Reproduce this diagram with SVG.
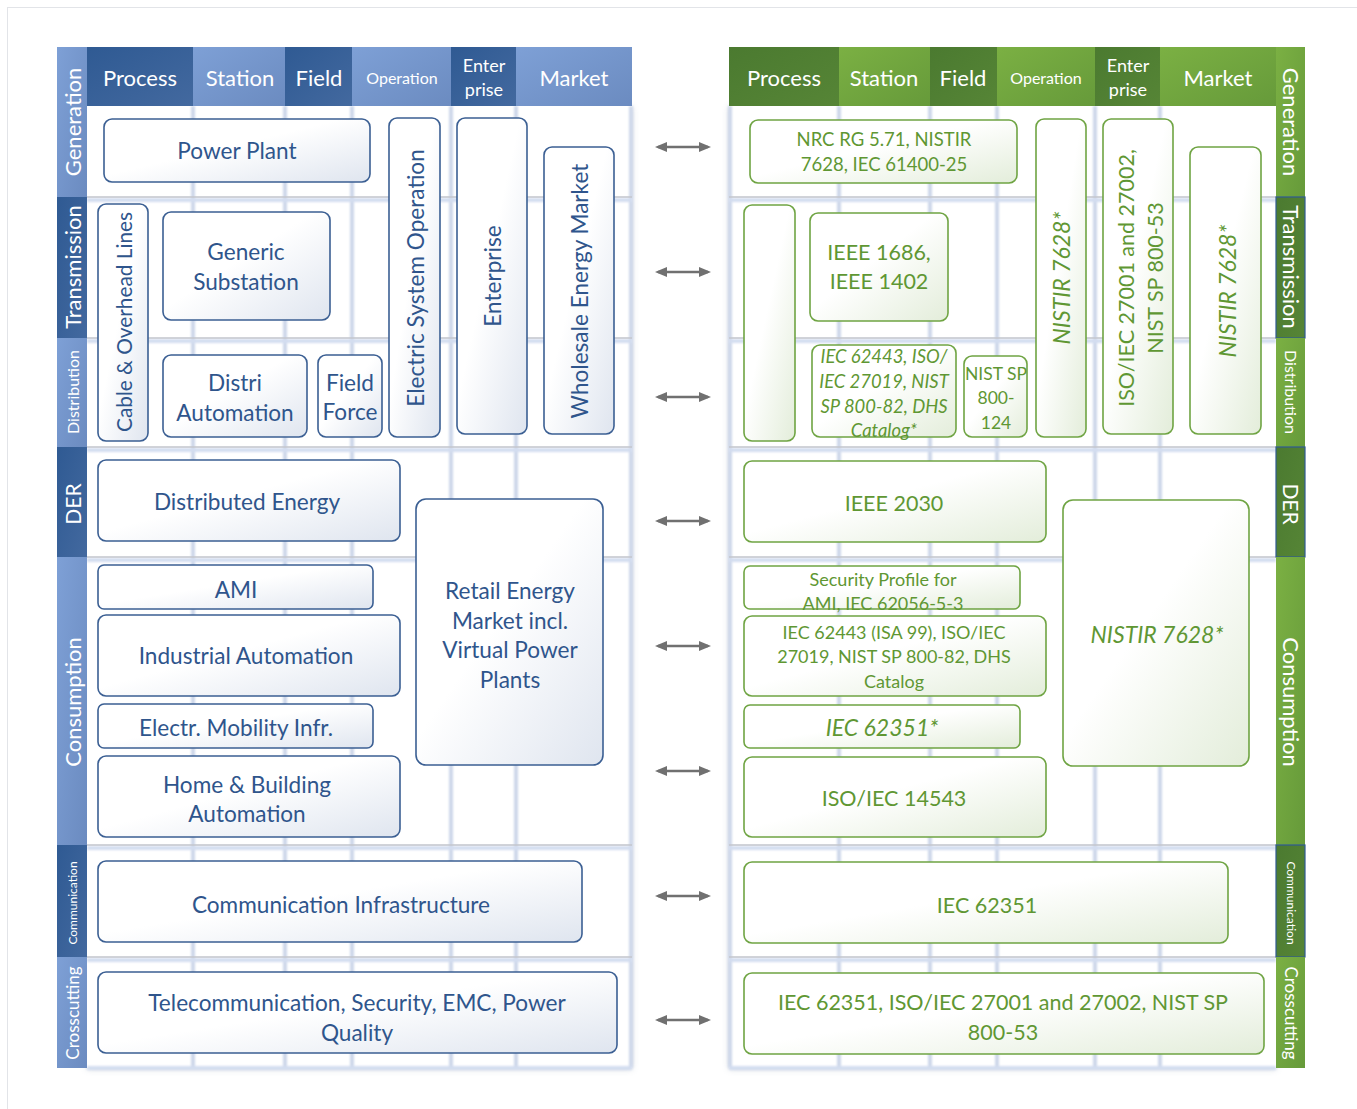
<svg xmlns="http://www.w3.org/2000/svg" width="1357" height="1109" viewBox="0 0 1357 1109">
  <defs>
    <style>
      text { font-family: Lato, "Open Sans", "Liberation Sans", sans-serif; text-anchor: middle; dominant-baseline: central; }
      .hd { fill: #ffffff; font-size: 22px; }
      .hd-s { fill: #ffffff; font-size: 16px; }
      .hd-m { fill: #ffffff; font-size: 18px; }
      .lab { fill: #ffffff; }
      .bn { fill: url(#gBlue); stroke: #3b5f93; stroke-width: 1.6; }
      .gn { fill: url(#gGreen); stroke: #6fa443; stroke-width: 1.6; }
      .bt { fill: #2f558c; font-size: 22.6px; }
      .gt { fill: #5f9733; font-size: 21.5px; }
      .gs { fill: #5f9733; font-size: 18px; }
      .it { font-style: italic; font-size: 23px; }
      .gs.it { font-size: 18.4px; }
      .hline { stroke: #c3c6cc; stroke-width: 1.5; }
      .hglow { stroke: #d3ddf0; stroke-width: 4; }
      .vline { stroke: #cdd7ea; stroke-width: 4; }
      .arr { stroke: #707070; stroke-width: 2.5; marker-start: url(#ah); marker-end: url(#ah); }
    </style>
    <linearGradient id="gBlue" x1="0" y1="0" x2="1" y2="1">
      <stop offset="0" stop-color="#ffffff"/>
      <stop offset="0.45" stop-color="#ffffff"/>
      <stop offset="1" stop-color="#dfe5ef"/>
    </linearGradient>
    <linearGradient id="gGreen" x1="0" y1="0" x2="1" y2="1">
      <stop offset="0" stop-color="#ffffff"/>
      <stop offset="0.45" stop-color="#ffffff"/>
      <stop offset="1" stop-color="#e3edda"/>
    </linearGradient>
    <linearGradient id="bDark" x1="0" y1="0" x2="1" y2="1">
      <stop offset="0" stop-color="#2f5a93"/>
      <stop offset="1" stop-color="#43699f"/>
    </linearGradient>
    <linearGradient id="bLight" x1="0" y1="0" x2="1" y2="1">
      <stop offset="0" stop-color="#7ea0d6"/>
      <stop offset="1" stop-color="#6b8bc0"/>
    </linearGradient>
    <linearGradient id="gDark" x1="0" y1="0" x2="1" y2="1">
      <stop offset="0" stop-color="#4b7a30"/>
      <stop offset="1" stop-color="#568536"/>
    </linearGradient>
    <linearGradient id="gLight" x1="0" y1="0" x2="1" y2="1">
      <stop offset="0" stop-color="#7bb043"/>
      <stop offset="1" stop-color="#669a3a"/>
    </linearGradient>
    <filter id="soft" x="-5%" y="-5%" width="110%" height="110%">
      <feGaussianBlur stdDeviation="1.2"/>
    </filter>
    <filter id="shadow" x="-5%" y="-5%" width="110%" height="110%">
      <feDropShadow dx="0" dy="1" stdDeviation="3" flood-color="#8a97ad" flood-opacity="0.45"/>
    </filter>
    <marker id="ah" viewBox="0 0 12 10" refX="9" refY="5" markerWidth="12" markerHeight="10" markerUnits="userSpaceOnUse" orient="auto-start-reverse">
      <path d="M0,0 L12,5 L0,10 Z" fill="#707070"/>
    </marker>
  </defs>

  <!-- page frame -->
  <rect x="0" y="0" width="1357" height="1109" fill="#ffffff"/>
  <rect x="7.5" y="7.5" width="1360" height="1110" fill="none" stroke="#e2e4e8" stroke-width="1"/>

  <!-- ===== left panel: domains ===== -->
  <g id="left-panel">
    <rect x="87" y="106" width="545" height="962" fill="#ffffff" filter="url(#shadow)"/>
    <g filter="url(#soft)">
      <line class="vline" x1="193" y1="106" x2="193" y2="1068"/>
      <line class="vline" x1="285" y1="106" x2="285" y2="1068"/>
      <line class="vline" x1="352" y1="106" x2="352" y2="1068"/>
      <line class="vline" x1="451" y1="106" x2="451" y2="1068"/>
      <line class="vline" x1="516" y1="106" x2="516" y2="1068"/>
      <line class="vline" x1="631" y1="106" x2="631" y2="1068"/>
      <line class="hglow" x1="87" y1="200" x2="632" y2="200"/>
      <line class="hglow" x1="87" y1="341" x2="632" y2="341"/>
      <line class="hglow" x1="87" y1="450" x2="632" y2="450"/>
      <line class="hglow" x1="87" y1="560" x2="632" y2="560"/>
      <line class="hglow" x1="87" y1="848" x2="632" y2="848"/>
      <line class="hglow" x1="87" y1="960" x2="632" y2="960"/>
      <line class="hglow" x1="87" y1="1068" x2="632" y2="1068"/>
    </g>
    <line class="hline" x1="87" y1="197" x2="632" y2="197"/>
    <line class="hline" x1="87" y1="338" x2="632" y2="338"/>
    <line class="hline" x1="87" y1="447" x2="632" y2="447"/>
    <line class="hline" x1="87" y1="557" x2="632" y2="557"/>
    <line class="hline" x1="87" y1="845" x2="632" y2="845"/>
    <line class="hline" x1="87" y1="957" x2="632" y2="957"/>

    <!-- column header -->
    <g id="left-header">
      <rect x="87" y="47" width="106" height="59" fill="url(#bDark)"/>
      <rect x="193" y="47" width="92" height="59" fill="url(#bLight)"/>
      <rect x="285" y="47" width="67" height="59" fill="url(#bDark)"/>
      <rect x="352" y="47" width="99" height="59" fill="url(#bLight)"/>
      <rect x="451" y="47" width="65" height="59" fill="url(#bDark)"/>
      <rect x="516" y="47" width="116" height="59" fill="url(#bLight)"/>
      <text class="hd" x="140" y="77">Process</text>
      <text class="hd" x="240" y="77">Station</text>
      <text class="hd" x="319" y="77">Field</text>
      <text class="hd-s" x="402" y="77">Operation</text>
      <text class="hd-m" x="484" y="65">Enter</text>
      <text class="hd-m" x="484" y="89">prise</text>
      <text class="hd" x="574" y="77">Market</text>
    </g>

    <!-- row labels -->
    <g id="left-rows">
      <rect x="57" y="47" width="30" height="150" fill="url(#bLight)"/>
      <rect x="57" y="197" width="30" height="141" fill="url(#bDark)"/>
      <rect x="57" y="338" width="30" height="109" fill="url(#bLight)"/>
      <rect x="57" y="447" width="30" height="110" fill="url(#bDark)"/>
      <rect x="57" y="557" width="30" height="288" fill="url(#bLight)"/>
      <rect x="57" y="845" width="30" height="112" fill="url(#bDark)"/>
      <rect x="57" y="957" width="30" height="111" fill="url(#bLight)"/>
      <text class="lab" font-size="22" transform="translate(72 122) rotate(-90)">Generation</text>
      <text class="lab" font-size="22" transform="translate(72 267) rotate(-90)">Transmission</text>
      <text class="lab" font-size="16" transform="translate(72 392) rotate(-90)">Distribution</text>
      <text class="lab" font-size="21" transform="translate(72 504) rotate(-90)">DER</text>
      <text class="lab" font-size="22" transform="translate(72 702) rotate(-90)">Consumption</text>
      <text class="lab" font-size="12" transform="translate(72 903) rotate(-90)">Communication</text>
      <text class="lab" font-size="17" transform="translate(72 1013) rotate(-90)">Crosscutting</text>
    </g>
  </g>

  <!-- left panel nodes -->
  <g id="power-plant">
    <rect class="bn" x="104" y="119" width="266" height="63" rx="8"/>
    <text class="bt" x="237" y="150">Power Plant</text>
  </g>
  <g id="electric-system-operation">
    <rect class="bn" x="389" y="118" width="51" height="319" rx="8"/>
    <text class="bt" transform="translate(415 278) rotate(-90)">Electric System Operation</text>
  </g>
  <g id="enterprise">
    <rect class="bn" x="457" y="118" width="70" height="316" rx="8"/>
    <text class="bt" transform="translate(492 276) rotate(-90)">Enterprise</text>
  </g>
  <g id="wholesale-energy-market">
    <rect class="bn" x="544" y="147" width="70" height="287" rx="8"/>
    <text class="bt" transform="translate(579 291) rotate(-90)">Wholesale Energy Market</text>
  </g>
  <g id="cable-overhead-lines">
    <rect class="bn" x="98" y="204" width="50" height="237" rx="8"/>
    <text class="bt" style="font-size:20.8px" transform="translate(123 322) rotate(-90)">Cable &amp; Overhead Lines</text>
  </g>
  <g id="generic-substation">
    <rect class="bn" x="163" y="212" width="167" height="108" rx="8"/>
    <text class="bt" x="246" y="251">Generic</text>
    <text class="bt" x="246" y="281">Substation</text>
  </g>
  <g id="distri-automation">
    <rect class="bn" x="163" y="355" width="144" height="82" rx="8"/>
    <text class="bt" x="235" y="382">Distri</text>
    <text class="bt" x="235" y="412">Automation</text>
  </g>
  <g id="field-force">
    <rect class="bn" x="318" y="355" width="64" height="82" rx="8"/>
    <text class="bt" x="350" y="382">Field</text>
    <text class="bt" x="350" y="411">Force</text>
  </g>
  <g id="distributed-energy">
    <rect class="bn" x="98" y="460" width="302" height="81" rx="8"/>
    <text class="bt" x="247" y="501">Distributed Energy</text>
  </g>
  <g id="retail-energy-market">
    <rect class="bn" x="416" y="499" width="187" height="266" rx="10"/>
    <text class="bt" x="510" y="590">Retail Energy</text>
    <text class="bt" x="510" y="620">Market incl.</text>
    <text class="bt" x="510" y="649">Virtual Power</text>
    <text class="bt" x="510" y="679">Plants</text>
  </g>
  <g id="ami">
    <rect class="bn" x="98" y="565" width="275" height="44" rx="6"/>
    <text class="bt" x="236" y="589">AMI</text>
  </g>
  <g id="industrial-automation">
    <rect class="bn" x="98" y="615" width="302" height="81" rx="8"/>
    <text class="bt" x="246" y="655">Industrial Automation</text>
  </g>
  <g id="electric-mobility">
    <rect class="bn" x="98" y="704" width="275" height="44" rx="6"/>
    <text class="bt" x="236" y="727">Electr. Mobility Infr.</text>
  </g>
  <g id="home-building-automation">
    <rect class="bn" x="98" y="756" width="302" height="81" rx="8"/>
    <text class="bt" x="247" y="784">Home &amp; Building</text>
    <text class="bt" x="247" y="813">Automation</text>
  </g>
  <g id="communication-infrastructure">
    <rect class="bn" x="98" y="861" width="484" height="81" rx="8"/>
    <text class="bt" x="341" y="904">Communication Infrastructure</text>
  </g>
  <g id="telecommunication">
    <rect class="bn" x="98" y="972" width="519" height="81" rx="8"/>
    <text class="bt" x="357" y="1002">Telecommunication, Security, EMC, Power</text>
    <text class="bt" x="357" y="1032">Quality</text>
  </g>

  <!-- ===== right panel: standards ===== -->
  <g id="right-panel">
    <rect x="729" y="106" width="547" height="962" fill="#ffffff" filter="url(#shadow)"/>
    <g filter="url(#soft)">
      <line class="vline" x1="839" y1="106" x2="839" y2="1068"/>
      <line class="vline" x1="930" y1="106" x2="930" y2="1068"/>
      <line class="vline" x1="997" y1="106" x2="997" y2="1068"/>
      <line class="vline" x1="1095" y1="106" x2="1095" y2="1068"/>
      <line class="vline" x1="1160" y1="106" x2="1160" y2="1068"/>
      <line class="vline" x1="730" y1="106" x2="730" y2="1068"/>
      <line class="hglow" x1="729" y1="200" x2="1276" y2="200"/>
      <line class="hglow" x1="729" y1="341" x2="1276" y2="341"/>
      <line class="hglow" x1="729" y1="450" x2="1276" y2="450"/>
      <line class="hglow" x1="729" y1="560" x2="1276" y2="560"/>
      <line class="hglow" x1="729" y1="848" x2="1276" y2="848"/>
      <line class="hglow" x1="729" y1="960" x2="1276" y2="960"/>
      <line class="hglow" x1="729" y1="1068" x2="1276" y2="1068"/>
    </g>
    <line class="hline" x1="729" y1="197" x2="1276" y2="197"/>
    <line class="hline" x1="729" y1="338" x2="1276" y2="338"/>
    <line class="hline" x1="729" y1="447" x2="1276" y2="447"/>
    <line class="hline" x1="729" y1="557" x2="1276" y2="557"/>
    <line class="hline" x1="729" y1="845" x2="1276" y2="845"/>
    <line class="hline" x1="729" y1="957" x2="1276" y2="957"/>

    <g id="right-header">
      <rect x="729" y="47" width="110" height="59" fill="url(#gDark)"/>
      <rect x="839" y="47" width="91" height="59" fill="url(#gLight)"/>
      <rect x="930" y="47" width="67" height="59" fill="url(#gDark)"/>
      <rect x="997" y="47" width="98" height="59" fill="url(#gLight)"/>
      <rect x="1095" y="47" width="65" height="59" fill="url(#gDark)"/>
      <rect x="1160" y="47" width="116" height="59" fill="url(#gLight)"/>
      <text class="hd" x="784" y="77">Process</text>
      <text class="hd" x="884" y="77">Station</text>
      <text class="hd" x="963" y="77">Field</text>
      <text class="hd-s" x="1046" y="77">Operation</text>
      <text class="hd-m" x="1128" y="65">Enter</text>
      <text class="hd-m" x="1128" y="89">prise</text>
      <text class="hd" x="1218" y="77">Market</text>
    </g>

    <g id="right-rows">
      <rect x="1276" y="47" width="29" height="150" fill="url(#gLight)"/>
      <rect x="1276" y="197" width="29" height="141" fill="url(#gDark)" stroke="#2f5a93" stroke-width="1.2"/>
      <rect x="1276" y="338" width="29" height="109" fill="url(#gLight)"/>
      <rect x="1276" y="447" width="29" height="110" fill="url(#gDark)" stroke="#2f5a93" stroke-width="1.2"/>
      <rect x="1276" y="557" width="29" height="288" fill="url(#gLight)"/>
      <rect x="1276" y="845" width="29" height="112" fill="url(#gDark)" stroke="#2f5a93" stroke-width="1.2"/>
      <rect x="1276" y="957" width="29" height="111" fill="url(#gLight)"/>
      <text class="lab" font-size="22" transform="translate(1291 122) rotate(90)">Generation</text>
      <text class="lab" font-size="22" transform="translate(1291 267) rotate(90)">Transmission</text>
      <text class="lab" font-size="16" transform="translate(1291 392) rotate(90)">Distribution</text>
      <text class="lab" font-size="21" transform="translate(1291 504) rotate(90)">DER</text>
      <text class="lab" font-size="22" transform="translate(1291 702) rotate(90)">Consumption</text>
      <text class="lab" font-size="12" transform="translate(1291 903) rotate(90)">Communication</text>
      <text class="lab" font-size="17" transform="translate(1291 1013) rotate(90)">Crosscutting</text>
    </g>
  </g>

  <!-- right panel nodes -->
  <g id="nrc-rg-571">
    <rect class="gn" x="750" y="120" width="267" height="63" rx="8"/>
    <text class="gs" style="font-size:18.5px" x="884" y="139">NRC RG 5.71, NISTIR</text>
    <text class="gs" style="font-size:18.5px" x="884" y="164">7628, IEC 61400-25</text>
  </g>
  <g id="nistir-operation">
    <rect class="gn" x="1036" y="119" width="50" height="318" rx="8"/>
    <text class="gt it" transform="translate(1061 278) rotate(-90)">NISTIR 7628*</text>
  </g>
  <g id="iso-27001-enterprise">
    <rect class="gn" x="1103" y="119" width="70" height="315" rx="8"/>
    <text class="gt" transform="translate(1126 278) rotate(-90)">ISO/IEC 27001 and 27002,</text>
    <text class="gt" transform="translate(1155 278) rotate(-90)">NIST SP 800-53</text>
  </g>
  <g id="nistir-market">
    <rect class="gn" x="1190" y="147" width="71" height="287" rx="8"/>
    <text class="gt it" transform="translate(1227 291) rotate(-90)">NISTIR 7628*</text>
  </g>
  <g id="lines-empty">
    <rect class="gn" x="744" y="205" width="51" height="236" rx="8"/>
  </g>
  <g id="ieee-1686">
    <rect class="gn" x="810" y="213" width="138" height="108" rx="8"/>
    <text class="gt" x="879" y="252">IEEE 1686,</text>
    <text class="gt" x="879" y="281">IEEE 1402</text>
  </g>
  <g id="iec-62443-distribution">
    <rect class="gn" x="812" y="345" width="144" height="92" rx="8"/>
    <text class="gs it" x="884" y="356">IEC 62443, ISO/</text>
    <text class="gs it" x="884" y="381">IEC 27019, NIST</text>
    <text class="gs it" x="884" y="406">SP 800-82, DHS</text>
    <text class="gs it" x="884" y="430">Catalog*</text>
  </g>
  <g id="nist-800-124">
    <rect class="gn" x="964" y="356" width="63" height="81" rx="8"/>
    <text class="gs" style="font-size:17.5px" x="996" y="373">NIST SP</text>
    <text class="gs" style="font-size:17.5px" x="996" y="397">800-</text>
    <text class="gs" style="font-size:17.5px" x="996" y="422">124</text>
  </g>
  <g id="ieee-2030">
    <rect class="gn" x="744" y="461" width="302" height="81" rx="8"/>
    <text class="gt" x="894" y="503">IEEE 2030</text>
  </g>
  <g id="nistir-retail">
    <rect class="gn" x="1063" y="500" width="186" height="266" rx="10"/>
    <text class="gt it" x="1157" y="634">NISTIR 7628*</text>
  </g>
  <g id="security-profile-ami">
    <rect class="gn" x="744" y="566" width="276" height="43" rx="6"/>
    <text class="gs" x="883" y="579">Security Profile for</text>
    <text class="gs" x="883" y="603">AMI, IEC 62056-5-3</text>
  </g>
  <g id="iec-62443-industrial">
    <rect class="gn" x="744" y="616" width="302" height="80" rx="8"/>
    <text class="gs" x="894" y="632">IEC 62443 (ISA 99), ISO/IEC</text>
    <text class="gs" x="894" y="656">27019, NIST SP 800-82, DHS</text>
    <text class="gs" x="894" y="681">Catalog</text>
  </g>
  <g id="iec-62351-mobility">
    <rect class="gn" x="744" y="705" width="276" height="43" rx="6"/>
    <text class="gt it" x="882" y="727">IEC 62351*</text>
  </g>
  <g id="iso-14543">
    <rect class="gn" x="744" y="757" width="302" height="80" rx="8"/>
    <text class="gt" x="894" y="798">ISO/IEC 14543</text>
  </g>
  <g id="iec-62351-communication">
    <rect class="gn" x="744" y="862" width="484" height="81" rx="8"/>
    <text class="gt" x="987" y="905">IEC 62351</text>
  </g>
  <g id="crosscutting-standards">
    <rect class="gn" x="744" y="973" width="520" height="81" rx="8"/>
    <text class="gt" x="1003" y="1002">IEC 62351, ISO/IEC 27001 and 27002, NIST SP</text>
    <text class="gt" x="1003" y="1032">800-53</text>
  </g>

  <!-- mapping arrows between the two panels -->
  <g id="connectors">
    <line class="arr" x1="658" y1="147" x2="708" y2="147"/>
    <line class="arr" x1="658" y1="272" x2="708" y2="272"/>
    <line class="arr" x1="658" y1="397" x2="708" y2="397"/>
    <line class="arr" x1="658" y1="521" x2="708" y2="521"/>
    <line class="arr" x1="658" y1="646" x2="708" y2="646"/>
    <line class="arr" x1="658" y1="771" x2="708" y2="771"/>
    <line class="arr" x1="658" y1="896" x2="708" y2="896"/>
    <line class="arr" x1="658" y1="1020" x2="708" y2="1020"/>
  </g>
</svg>
